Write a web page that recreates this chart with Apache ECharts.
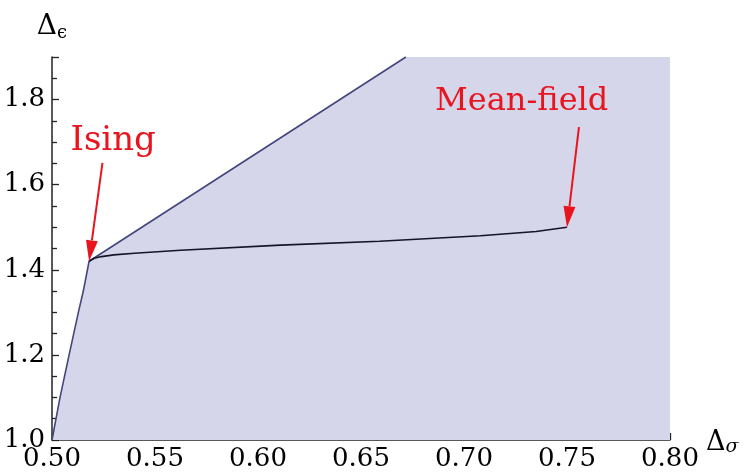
<!DOCTYPE html>
<html>
<head>
<meta charset="utf-8">
<script src="https://cdn.jsdelivr.net/npm/echarts@6/dist/echarts.min.js"></script>
<style>
html,body{margin:0;padding:0;background:#fff;}
#c{width:755px;height:475px;}
</style>
</head>
<body>
<div id="c"></div>
<script>
// Allowed-region boundary (lower-left curve up to the Ising kink, then straight edge)
const boundaryX = [0.500, 0.5039, 0.5083, 0.5128, 0.5152, 0.518, 0.6718];
const boundaryY = [1.000, 1.100, 1.200, 1.300, 1.350, 1.420, 1.900];
// Top-right corner of the shaded region
const regionTopX = [0.6718, 0.800];
const regionTopY = [1.900, 1.900];
// Black curve from Ising kink to Mean-field point
const curveX = [0.518, 0.5205, 0.524, 0.530, 0.540, 0.5624, 0.611, 0.659, 0.708, 0.735, 0.750];
const curveY = [1.420, 1.427, 1.431, 1.435, 1.439, 1.446, 1.458, 1.467, 1.480, 1.490, 1.500];
// Annotations
const labelNames = ['Ising', 'Mean-field'];
const labelX = [0.5297, 0.728];
const labelY = [1.702, 1.795];
const arrowTailX = [0.5245, 0.7558];
const arrowTailY = [1.651, 1.735];
const arrowTipX = [0.518, 0.750];
const arrowTipY = [1.420, 1.500];
// Axis ticks
const xTicks = ['0.50', '0.55', '0.60', '0.65', '0.70', '0.75', '0.80'];
const yTicks = ['1.0', '1.2', '1.4', '1.6', '1.8'];

const zip = (a, b) => a.map((v, i) => [v, b[i]]);
const areaData = zip(boundaryX, boundaryY).concat(zip(regionTopX, regionTopY).slice(1));

const serif = 'DejaVu Serif';
const red = '#e8141e';
const labelFont = ['34px', '32px'];

const chart = echarts.init(document.getElementById('c'), null, {renderer: 'canvas'});
chart.setOption({
  animation: false,
  backgroundColor: '#ffffff',
  textStyle: {fontFamily: serif},
  grid: {left: 52, right: 85, top: 57, bottom: 35, containLabel: false},
  xAxis: {
    type: 'value', min: 0.5, max: 0.8, interval: 0.05,
    name: '{a|Δ}{b|σ}', nameLocation: 'end', nameGap: 36,
    nameTextStyle: {
      fontFamily: serif,
      rich: {
        a: {fontFamily: serif, fontSize: 27, color: '#000', lineHeight: 30, padding: [6, 0, 0, 0]},
        b: {fontFamily: serif, fontSize: 19, fontStyle: 'italic', color: '#000', padding: [14, 0, 0, 0]}
      }
    },
    axisLine: {show: true, onZero: false, lineStyle: {color: '#222', width: 1.5}},
    axisTick: {show: true, inside: true, length: 7, lineStyle: {color: '#222', width: 1.3}},
    minorTick: {show: true, splitNumber: 5, length: 5, lineStyle: {color: '#222', width: 1.3}},
    splitLine: {show: false},
    axisLabel: {
      fontFamily: serif, fontSize: 26, color: '#000', margin: 6,
      formatter: v => { const s = v.toFixed(2); return xTicks.indexOf(s) >= 0 ? s : ''; }
    }
  },
  yAxis: {
    type: 'value', min: 1.0, max: 1.9, interval: 0.2,
    name: '{a|Δ}{b|ϵ}', nameLocation: 'end', nameGap: 15,
    nameTextStyle: {
      align: 'center', fontFamily: serif,
      rich: {
        a: {fontFamily: serif, fontSize: 28, color: '#000', lineHeight: 30},
        b: {fontFamily: serif, fontSize: 18, color: '#000', padding: [12, 0, 0, 0]}
      }
    },
    axisLine: {show: true, onZero: false, lineStyle: {color: '#222', width: 1.5}},
    axisTick: {show: true, inside: true, length: 7, lineStyle: {color: '#222', width: 1.3}},
    minorTick: {show: true, splitNumber: 4, length: 5, lineStyle: {color: '#222', width: 1.3}},
    splitLine: {show: false},
    axisLabel: {
      fontFamily: serif, fontSize: 26, color: '#000', margin: 7, showMaxLabel: false,
      formatter: v => { const s = v.toFixed(1); return yTicks.indexOf(s) >= 0 ? s : ''; }
    }
  },
  series: [
    {
      name: 'region', type: 'line', data: areaData, symbol: 'none', silent: true,
      lineStyle: {width: 0, opacity: 0},
      areaStyle: {color: '#d6d6ea', opacity: 1, origin: 'start'},
      z: 1
    },
    {
      name: 'boundary', type: 'line', data: zip(boundaryX, boundaryY), symbol: 'none',
      lineStyle: {color: '#45457f', width: 1.6}, z: 3
    },
    {
      name: 'curve', type: 'line', data: zip(curveX, curveY), symbol: 'none',
      lineStyle: {color: '#14142a', width: 1.6}, z: 3
    },
    {
      name: 'arrows', type: 'custom', z: 5,
      data: arrowTailX.map((x, i) => [x, arrowTailY[i], arrowTipX[i], arrowTipY[i]]),
      renderItem: function (params, api) {
        const t = api.coord([api.value(0), api.value(1)]);
        const h = api.coord([api.value(2), api.value(3)]);
        const dx = h[0] - t[0], dy = h[1] - t[1];
        const L = Math.sqrt(dx * dx + dy * dy);
        const ux = dx / L, uy = dy / L;
        const headLen = 21, headW = 6;
        const bx = h[0] - ux * headLen, by = h[1] - uy * headLen;
        const px = -uy * headW, py = ux * headW;
        return {
          type: 'group',
          children: [
            {type: 'line', shape: {x1: t[0], y1: t[1], x2: bx, y2: by},
             style: {stroke: red, lineWidth: 2}},
            {type: 'polygon', shape: {points: [[h[0], h[1]], [bx + px, by + py], [bx - px, by - py]]},
             style: {fill: red}}
          ]
        };
      }
    },
    {
      name: 'labels', type: 'custom', z: 6,
      data: labelNames.map((n, i) => [labelX[i], labelY[i], i]),
      renderItem: function (params, api) {
        const p = api.coord([api.value(0), api.value(1)]);
        const i = api.value(2);
        return {
          type: 'text',
          style: {
            text: labelNames[i], x: p[0], y: p[1],
            align: 'center', verticalAlign: 'middle',
            fill: red, font: labelFont[i] + ' "DejaVu Serif", serif'
          }
        };
      }
    }
  ]
});
</script>
</body>
</html>
